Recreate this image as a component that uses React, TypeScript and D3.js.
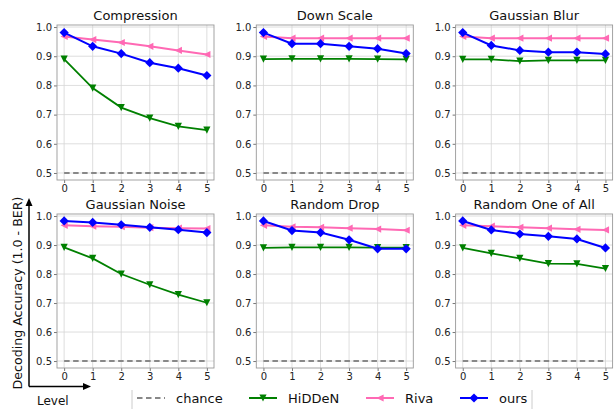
import React, { useRef, useEffect } from 'react';
import * as d3 from 'd3';

// attack strength levels on the x axis
const levels = [0, 1, 2, 3, 4, 5];
const yTicks = [0.5, 0.6, 0.7, 0.8, 0.9, 1.0];
const chanceLevel = 0.5;

const panelTitles = ['Compression', 'Down Scale', 'Gaussian Blur', 'Gaussian Noise', 'Random Drop', 'Random One of All'];

// HiDDeN
const compressionHidden = [0.890, 0.791, 0.724, 0.688, 0.660, 0.647];
const downScaleHidden = [0.890, 0.891, 0.891, 0.891, 0.890, 0.889];
const blurHidden = [0.889, 0.889, 0.883, 0.886, 0.886, 0.886];
const noiseHidden = [0.892, 0.854, 0.800, 0.763, 0.729, 0.701];
const dropHidden = [0.890, 0.892, 0.892, 0.892, 0.891, 0.891];
const oneOfAllHidden = [0.890, 0.871, 0.854, 0.836, 0.835, 0.819];

// Riva
const compressionRiva = [0.968, 0.957, 0.947, 0.934, 0.920, 0.906];
const downScaleRiva = [0.968, 0.962, 0.962, 0.962, 0.962, 0.962];
const blurRiva = [0.968, 0.962, 0.962, 0.962, 0.962, 0.962];
const noiseRiva = [0.968, 0.965, 0.963, 0.960, 0.958, 0.957];
const dropRiva = [0.968, 0.963, 0.961, 0.958, 0.955, 0.951];
const oneOfAllRiva = [0.968, 0.965, 0.961, 0.958, 0.954, 0.952];

// ours
const compressionOurs = [0.981, 0.934, 0.909, 0.878, 0.859, 0.834];
const downScaleOurs = [0.981, 0.943, 0.943, 0.934, 0.926, 0.909];
const blurOurs = [0.981, 0.937, 0.920, 0.914, 0.914, 0.908];
const noiseOurs = [0.983, 0.978, 0.970, 0.961, 0.953, 0.943];
const dropOurs = [0.983, 0.950, 0.943, 0.918, 0.887, 0.887];
const oneOfAllOurs = [0.983, 0.952, 0.938, 0.930, 0.921, 0.890];

const hiddenSeries = [compressionHidden, downScaleHidden, blurHidden, noiseHidden, dropHidden, oneOfAllHidden];
const rivaSeries = [compressionRiva, downScaleRiva, blurRiva, noiseRiva, dropRiva, oneOfAllRiva];
const oursSeries = [compressionOurs, downScaleOurs, blurOurs, noiseOurs, dropOurs, oneOfAllOurs];

const FONT = 'DejaVu Sans, sans-serif';
const GREEN = '#008000';
const PINK = '#ff69b4';
const BLUE = '#0000ff';
const GRAY = '#888888';

const triDown = (s) => `M${-s},${-s}L${s},${-s}L0,${s}Z`;
const triLeft = (s) => `M${-s},0L${s},${-s}L${s},${s}Z`;
const diamond = (s) => `M0,${-s}L${s},0L0,${s}L${-s},0Z`;

const App = () => {
    const ref = useRef(null);

    useEffect(() => {
        const svg = d3.select(ref.current);
        svg.selectAll('*').remove();

        const pw = 157;
        const methods = [
            { name: 'HiDDeN', color: GREEN, width: 1.8, marker: triDown(3.6), data: hiddenSeries },
            { name: 'Riva', color: PINK, width: 2, marker: triLeft(3.6), data: rivaSeries },
            { name: 'ours', color: BLUE, width: 2, marker: diamond(4.6), data: oursSeries },
        ];

        panelTitles.forEach((title, i) => {
            const col = i % 3;
            const row = Math.floor(i / 3);
            const left = 57 + col * 199.3;
            const top = row === 0 ? 25 : 214;
            const ph = row === 0 ? 155 : 154;

            const x = d3.scaleLinear().domain([-0.25, 5.25]).range([0, pw]);
            const y = d3.scaleLinear().domain([0.476, 1.007]).range([ph, 0]);

            const g = svg.append('g').attr('transform', `translate(${left},${top})`);

            // grid
            g.append('g').selectAll('line').data(levels).join('line')
                .attr('x1', d => x(d)).attr('x2', d => x(d))
                .attr('y1', 0).attr('y2', ph)
                .attr('stroke', '#d6d6d6').attr('stroke-width', 0.8);
            g.append('g').selectAll('line').data(yTicks).join('line')
                .attr('x1', 0).attr('x2', pw)
                .attr('y1', d => y(d)).attr('y2', d => y(d))
                .attr('stroke', '#d6d6d6').attr('stroke-width', 0.8);

            // axes
            const xa = g.append('g').attr('transform', `translate(0,${ph})`)
                .call(d3.axisBottom(x).tickValues(levels).tickSize(3).tickPadding(2).tickFormat(d3.format('d')));
            const ya = g.append('g')
                .call(d3.axisLeft(y).tickValues(yTicks).tickSize(3).tickPadding(2).tickFormat(d3.format('.1f')));
            [xa, ya].forEach(a => {
                a.select('.domain').remove();
                a.selectAll('line').attr('stroke', '#777');
                a.selectAll('text').attr('font-family', FONT).attr('font-size', 10).attr('fill', '#222');
            });

            // chance
            g.append('path').datum(levels)
                .attr('fill', 'none').attr('stroke', GRAY).attr('stroke-width', 2)
                .attr('stroke-dasharray', '5.5,3.5')
                .attr('d', d3.line().x(d => x(d)).y(() => y(chanceLevel)));

            methods.forEach(m => {
                const vals = m.data[i];
                g.append('path').datum(vals)
                    .attr('fill', 'none').attr('stroke', m.color).attr('stroke-width', m.width)
                    .attr('d', d3.line().x((d, k) => x(levels[k])).y(d => y(d)));
                g.append('g').selectAll('path').data(vals).join('path')
                    .attr('d', m.marker)
                    .attr('transform', (d, k) => `translate(${x(levels[k])},${y(d)})`)
                    .attr('fill', m.color);
            });

            // frame
            g.append('rect').attr('width', pw).attr('height', ph)
                .attr('fill', 'none').attr('stroke', '#999').attr('stroke-width', 0.9);

            svg.append('text')
                .attr('x', left + pw / 2).attr('y', row === 0 ? 20 : 209)
                .attr('text-anchor', 'middle')
                .attr('font-family', FONT).attr('font-size', 13).attr('fill', '#111')
                .text(title);
        });

        // y label + arrows
        svg.append('text')
            .attr('transform', 'translate(21.5,293) rotate(-90)')
            .attr('text-anchor', 'middle')
            .attr('font-family', FONT).attr('font-size', 12.6).attr('fill', '#111')
            .text('Decoding Accuracy (1.0 - BER)');
        const arrows = svg.append('g');
        arrows.append('path').attr('d', 'M29,386.5V205').attr('stroke', '#000').attr('stroke-width', 1.5);
        arrows.append('path').attr('d', 'M29,386.5H85').attr('stroke', '#000').attr('stroke-width', 1.5);
        arrows.append('path').attr('d', 'M29,198L25.5,206L32.5,206Z').attr('fill', '#000');
        arrows.append('path').attr('d', 'M91,386.5L83,383L83,390Z').attr('fill', '#000');
        svg.append('text')
            .attr('x', 37).attr('y', 405)
            .attr('font-family', FONT).attr('font-size', 12).attr('fill', '#111')
            .text('Level');

        // legend
        const lg = svg.append('g');
        lg.append('line').attr('x1', 132).attr('x2', 132).attr('y1', 390).attr('y2', 409).attr('stroke', '#ccc');
        lg.append('line').attr('x1', 532).attr('x2', 532).attr('y1', 390).attr('y2', 409).attr('stroke', '#ccc');
        const legendItems = [
            { name: 'chance', color: GRAY, x: 137, dash: '5.5,3.5', marker: null },
            { name: 'HiDDeN', color: GREEN, x: 249, dash: null, marker: triDown(3.6) },
            { name: 'Riva', color: PINK, x: 366, dash: null, marker: triLeft(3.6) },
            { name: 'ours', color: BLUE, x: 460, dash: null, marker: diamond(4.6) },
        ];
        legendItems.forEach(it => {
            lg.append('line').attr('x1', it.x).attr('x2', it.x + 28).attr('y1', 398).attr('y2', 398)
                .attr('stroke', it.color).attr('stroke-width', 2)
                .attr('stroke-dasharray', it.dash);
            if (it.marker) {
                lg.append('path').attr('d', it.marker)
                    .attr('transform', `translate(${it.x + 14},398)`).attr('fill', it.color);
            }
            lg.append('text').attr('x', it.x + 39).attr('y', 403)
                .attr('font-family', FONT).attr('font-size', 13).attr('fill', '#111')
                .text(it.name);
        });
    }, []);

    return <div style={{ position: 'fixed', left: 0, top: 0, width: 615, height: 409, background: '#fff' }}>
        <svg ref={ref} width={615} height={409}></svg>
    </div>;
};

export default App;
